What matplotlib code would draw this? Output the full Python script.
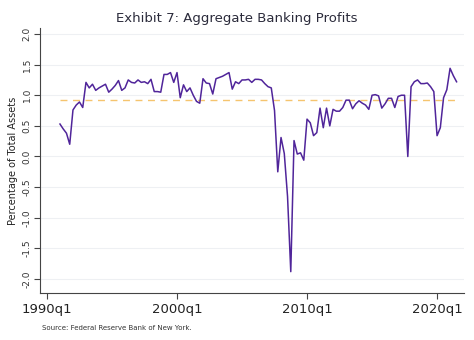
import numpy as np
import matplotlib
matplotlib.use("Agg")
import matplotlib.pyplot as plt

# quarterly profits, 1991q1 .. 2021q3 (percentage of total assets)
START_YEAR = 1991
profits = [
    0.53, 0.45, 0.38, 0.20, 0.76, 0.84, 0.89, 0.80, 1.21, 1.12,
    1.18, 1.08, 1.12, 1.15, 1.18, 1.05, 1.10, 1.16, 1.24, 1.08,
    1.12, 1.25, 1.21, 1.20, 1.25, 1.21, 1.22, 1.19, 1.26, 1.06,
    1.06, 1.05, 1.34, 1.34, 1.37, 1.21, 1.37, 0.96, 1.17, 1.06,
    1.12, 1.00, 0.90, 0.87, 1.27, 1.20, 1.19, 1.02, 1.27, 1.29,
    1.31, 1.34, 1.37, 1.10, 1.22, 1.19, 1.25, 1.25, 1.26, 1.21,
    1.26, 1.26, 1.25, 1.19, 1.14, 1.12, 0.75, -0.25, 0.31, 0.05,
    -0.65, -1.88, 0.26, 0.04, 0.06, -0.06, 0.61, 0.55, 0.34, 0.39,
    0.79, 0.47, 0.79, 0.50, 0.77, 0.74, 0.74, 0.80, 0.92, 0.92,
    0.78, 0.86, 0.91, 0.87, 0.84, 0.77, 1.00, 1.01, 0.99, 0.79,
    0.86, 0.95, 0.95, 0.80, 0.98, 1.00, 1.00, 0.00, 1.14, 1.22,
    1.25, 1.19, 1.19, 1.20, 1.14, 1.06, 0.34, 0.47, 0.96, 1.09,
    1.44, 1.32, 1.22,
]
average = 0.92

y_ticks = [2.0, 1.5, 1.0, 0.5, 0.0, -0.5, -1.0, -1.5, -2.0]
x_tick_years = [1990, 2000, 2010, 2020]

# quarters counted from 1990q1
quarters = np.arange(len(profits)) + (START_YEAR - 1990) * 4

fig = plt.figure(figsize=(4.74, 3.40), dpi=100)
ax = fig.add_axes([0.084, 0.138, 0.895, 0.78])

for v in y_ticks:
    ax.axhline(v, color="#eef0f3", lw=0.8, zorder=0)

ax.plot([quarters[0], quarters[-1]], [average, average], color="#f5c46e",
        lw=1.0, ls=(0, (5, 4)), zorder=2)
ax.plot(quarters, profits, color="#50259a", lw=1.1, zorder=3)

ax.set_xlim(-2.2, 128.3)
ax.set_ylim(-2.23, 2.10)

ax.set_yticks(y_ticks)
ax.set_yticklabels([f"{v:.1f}" for v in y_ticks], rotation=90, va="center",
                   fontsize=6.5, color="#333333")
xt = [(y - 1990) * 4 for y in x_tick_years]
ax.set_xticks(xt)
ax.set_xticklabels([f"{y}q1" for y in x_tick_years], fontsize=9.5, color="#222222")
ax.tick_params(axis="both", direction="out", length=4, width=0.8, color="#444444")
ax.tick_params(axis="y", pad=2)
ax.tick_params(axis="x", pad=3)

for side in ("top", "right"):
    ax.spines[side].set_visible(False)
for side in ("left", "bottom"):
    ax.spines[side].set_color("#444444")
    ax.spines[side].set_linewidth(0.8)

ax.set_ylabel("Percentage of Total Assets", fontsize=7, color="#222222", labelpad=3)
fig.text(0.5, 0.945, "Exhibit 7: Aggregate Banking Profits", ha="center",
         va="center", fontsize=9.5, color="#2b2b3b")
fig.text(0.088, 0.035, "Source: Federal Reserve Bank of New York.", ha="left",
         va="center", fontsize=5, color="#333333")

fig.savefig("out.png", dpi=100)
